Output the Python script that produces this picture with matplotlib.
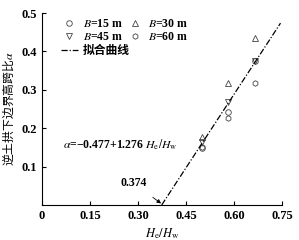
import matplotlib
matplotlib.use("Agg")
import matplotlib.pyplot as plt
import numpy as np

plt.rcParams['font.family'] = ['Liberation Serif', 'Noto Sans CJK SC']
plt.rcParams['mathtext.fontset'] = 'stix'

# data
x15 = [0.499, 0.582, 0.666]
y15 = [0.148, 0.243, 0.376]
x30 = [0.499, 0.580, 0.666]
y30 = [0.178, 0.317, 0.434]
x45 = [0.499, 0.582, 0.666]
y45 = [0.165, 0.269, 0.376]
x60 = [0.499, 0.582, 0.666]
y60 = [0.150, 0.226, 0.318]
fit_a, fit_b = -0.477, 1.276
fit_x = [0.374, 0.745]
xticks = [0, 0.15, 0.30, 0.45, 0.60, 0.75]
xticklabels = ['0', '0.15', '0.30', '0.45', '0.60', '0.75']
yticks = [0.1, 0.2, 0.3, 0.4, 0.5]
yticklabels = ['0.1', '0.2', '0.3', '0.4', '0.5']

fig = plt.figure(figsize=(2.99, 2.40), dpi=100)
ax = fig.add_axes([0.1405, 0.1458, 0.803, 0.80])

mk = dict(linestyle='none', markerfacecolor='none', markeredgecolor='#444444',
          markeredgewidth=0.6, markersize=4)
h15, = ax.plot(x15, y15, marker='o', label='$B$=15 m', **mk)
h30, = ax.plot(x30, y30, marker='^', label='$B$=30 m', **mk)
h45, = ax.plot(x45, y45, marker='v', label='$B$=45 m', **mk)
h60, = ax.plot(x60, y60, marker='h', label='$B$=60 m', **mk)

fx = np.array(fit_x)
hf, = ax.plot(fx, fit_a + fit_b * fx, color='black', linestyle=(0, (5, 1.5, 1, 1.5)),
              linewidth=0.9, label='拟合曲线')

ax.set_xlim(0, 0.75)
ax.set_ylim(0, 0.5)
ax.set_xticks(xticks)
ax.set_xticklabels(xticklabels)
ax.set_yticks(yticks)
ax.set_yticklabels(yticklabels)
for s in ['top', 'right']:
    ax.spines[s].set_visible(False)
for s in ['left', 'bottom']:
    ax.spines[s].set_linewidth(0.8)
ax.tick_params(direction='in', length=3, width=0.8, labelsize=9)
for lab in ax.get_xticklabels() + ax.get_yticklabels():
    lab.set_fontweight('bold')

ax.set_xlabel('$H_\\mathrm{e}/H_\\mathrm{w}$', fontsize=9, labelpad=3)
ax.set_ylabel('逆土拱下边界高跨比$\\alpha$', fontsize=8.5, labelpad=4,
              family=['Noto Sans CJK SC', 'DejaVu Sans'])

ax.text(0.245, 0.156, '$\\alpha$=−0.477+1.276 $H_\\mathrm{e}/H_\\mathrm{w}$',
        fontsize=8.5, fontweight='bold', ha='center', va='center')
ax.annotate('0.374', xy=(0.372, 0.004), xytext=(0.285, 0.058),
            fontsize=8.5, fontweight='bold', ha='center', va='center',
            arrowprops=dict(arrowstyle='-|>', color='black', lw=0.6,
                            mutation_scale=6, shrinkA=7, shrinkB=0))

leg = ax.legend(handles=[h15, h45, hf, h30, h60], ncol=2, frameon=False,
                loc='upper left', bbox_to_anchor=(0.035, 1.03), fontsize=8.5,
                handlelength=1.4, handletextpad=0.45, columnspacing=-0.3,
                labelspacing=0.08)
for t in leg.get_texts():
    t.set_fontweight('bold')
leg.get_texts()[2].set_family(['Noto Sans CJK SC', 'DejaVu Sans'])

fig.savefig('out.png', dpi=100)
